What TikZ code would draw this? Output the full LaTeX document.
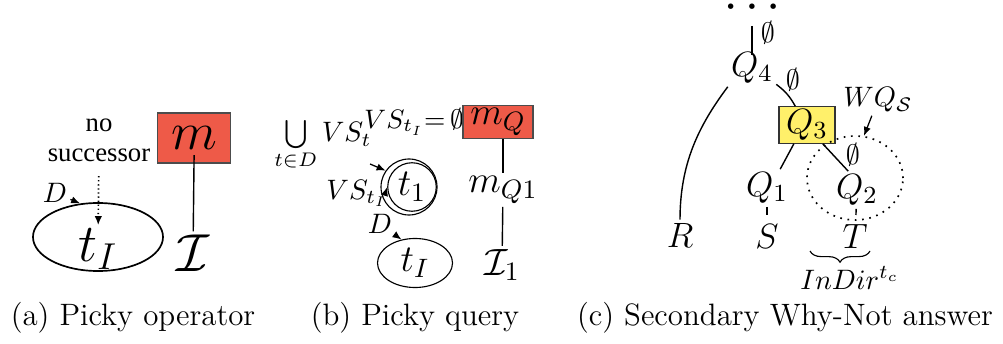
\RequirePackage{fix-cm}
\documentclass[tikz,border=0pt]{standalone}
\usepackage{amsmath}
\usepackage{fontspec}
\newfontfamily\notefont{Liberation Serif}
\usetikzlibrary{arrows.meta,shapes.geometric,decorations.pathreplacing}
\definecolor{pickyred}{HTML}{EE5A48}
\definecolor{whynotyellow}{HTML}{FFF06A}

\begin{document}
\begin{tikzpicture}[x=0.0125cm,y=-0.0125cm,
  tie/.style={line width=0.5pt},
  tiearrow/.style={-{Latex[length=3.2pt,width=2.6pt]},line width=0.45pt},
  pickybox/.style={draw=black!70,fill=pickyred,inner sep=0pt},
  whynotbox/.style={draw=black!80,fill=whynotyellow,inner sep=0pt},
  setoval/.style={draw,ellipse,inner sep=0pt},
  hugemath/.style={font=\fontsize{19}{22}\selectfont,inner sep=1pt},
  midmath/.style={font=\fontsize{13.5}{16}\selectfont,inner sep=1pt},
  treemath/.style={font=\fontsize{12.5}{15}\selectfont,inner sep=1pt},
  smallmath/.style={font=\fontsize{10}{12}\selectfont,inner sep=1pt},
  captionlbl/.style={font=\fontsize{11}{13}\selectfont,inner sep=0pt}
]
  \useasboundingbox (0,0) rectangle (1003,343);

  % (a) picky operator
  \node[font=\notefont\fontsize{9.5}{10.7}\selectfont,align=center,
    inner sep=1pt] (nosucc) at (99,140) {no\\successor};
  \node[setoval,line width=0.6pt,minimum width=1.625cm,
    minimum height=0.85cm] (Da) at (98,237) {};
  \node[hugemath] (tIa) at (98,249) {$t_I$};
  \node[smallmath] (DlabA) at (55,193) {$D$};
  \draw[tiearrow] (DlabA) -- (Da.118);
  \draw[tiearrow,densely dotted,line width=0.6pt,shorten <=4pt]
    (nosucc) -- (tIa);
  \node[pickybox,hugemath,minimum width=0.9125cm,minimum height=0.625cm]
    (ma) at (194,138) {$m$};
  \node[hugemath] (Ia) at (193,253) {$\mathcal{I}$};
  \draw[tie,shorten <=-3pt] (ma.south) -- (Ia);

  % (b) picky query
  \node[smallmath] (unionvs) at (323,146) {$\bigcup\limits_{t\in D}VS_t$};
  \node[smallmath,font=\fontsize{9.5}{11}\selectfont] (vsempty)
    at (414,122) {$VS_{t_I}{=}\,\emptyset$};
  \node[pickybox,midmath,minimum width=0.875cm,minimum height=0.4125cm]
    (mQ) at (498,122) {$m_Q$};
  \node[midmath] (mQone) at (503,190) {$m_{Q1}$};
  \node[midmath] (Ione) at (502,265) {$\mathcal{I}_1$};
  \draw[tie] (mQ.south -| mQone) -- (mQone);
  \draw[tie] (mQone) -- (Ione);
  \node[draw,circle,inner sep=0pt,minimum size=0.7cm] (ringout)
    at (409,187) {};
  \node[draw,circle,inner sep=0pt,minimum size=0.5625cm,midmath] (tone)
    at (412,187) {$t_1$};
  \coordinate (ringtail) at (370,164);
  \draw[tiearrow] (ringtail) -- (ringout.145);
  \node[smallmath] (vsti) at (357,193) {$VS_{t_I}$};
  \draw[tiearrow] ([xshift=-2pt]vsti.east) -- (tone.west);
  \node[smallmath] (DlabB) at (380,224) {$D$};
  \node[setoval,midmath,minimum width=0.9375cm,minimum height=0.6cm]
    (Db) at (415,263) {$t_I$};
  \draw[tiearrow] (DlabB) -- (Db.120);

  % (c) secondary why-not answer
  \node[font=\fontsize{4}{5}\selectfont,inner sep=0pt] (dots) at (752,7)
    {$\bullet\mkern10mu\bullet\mkern10mu\bullet$};
  \coordinate (dotsfoot) at (752,26);
  \node[smallmath] (eTop) at (768,33) {$\emptyset$};
  \node[treemath] (Q4) at (752,68) {$Q_4$};
  \draw[line width=0.8pt,shorten >=-2pt] (dotsfoot) -- (Q4);
  \node[treemath] (R) at (680,235) {$R$};
  \draw[tie] (Q4.south west) .. controls +(-30,40) and +(0,-55) .. (R.north);
  \node[whynotbox,treemath,minimum width=0.7cm,minimum height=0.45cm]
    (Q3) at (807,125) {$Q_3$};
  \draw[tie] (Q4) to[bend left=12] (Q3);
  \node[smallmath] (eQ43) at (793,80) {$\emptyset$};
  \node[treemath] (Q1) at (767,188) {$Q_1$};
  \node[treemath] (Q2) at (857,190) {$Q_2$};
  \draw[tie] (Q3.235) -- (Q1.55);
  \draw[tie] (Q3.310) -- (Q2.115);
  \node[smallmath] (eQ2) at (853,155) {$\emptyset$};
  \node[treemath] (S) at (767,236) {$S$};
  \node[treemath] (T) at (855,236) {$T$};
  \draw[tie,shorten >=2pt] (Q1) -- (S);
  \draw[tie,shorten >=2pt] (Q2) -- (T);
  \node[setoval,dotted,line width=0.6pt,minimum width=1.2cm,
    minimum height=1.05cm] (wqsell) at (855,178) {};
  \node[smallmath] (wqs) at (878,100) {$WQ_{\mathcal{S}}$};
  \draw[tiearrow] (wqs) -- (wqsell.78);
  \coordinate (braceR) at (870,251);
  \coordinate (braceL) at (810,251);
  \draw[decorate,decoration={brace,amplitude=4pt}] (braceR) -- (braceL);
  \node[smallmath] (indir) at (850,278) {$InDir^{t_c}$};

  % captions
  \node[captionlbl] (capa) at (133,318) {(a) Picky operator};
  \node[captionlbl] (capb) at (415,318) {(b) Picky query};
  \node[captionlbl] (capc) at (785,318) {(c) Secondary Why-Not answer};
\end{tikzpicture}
\end{document}
